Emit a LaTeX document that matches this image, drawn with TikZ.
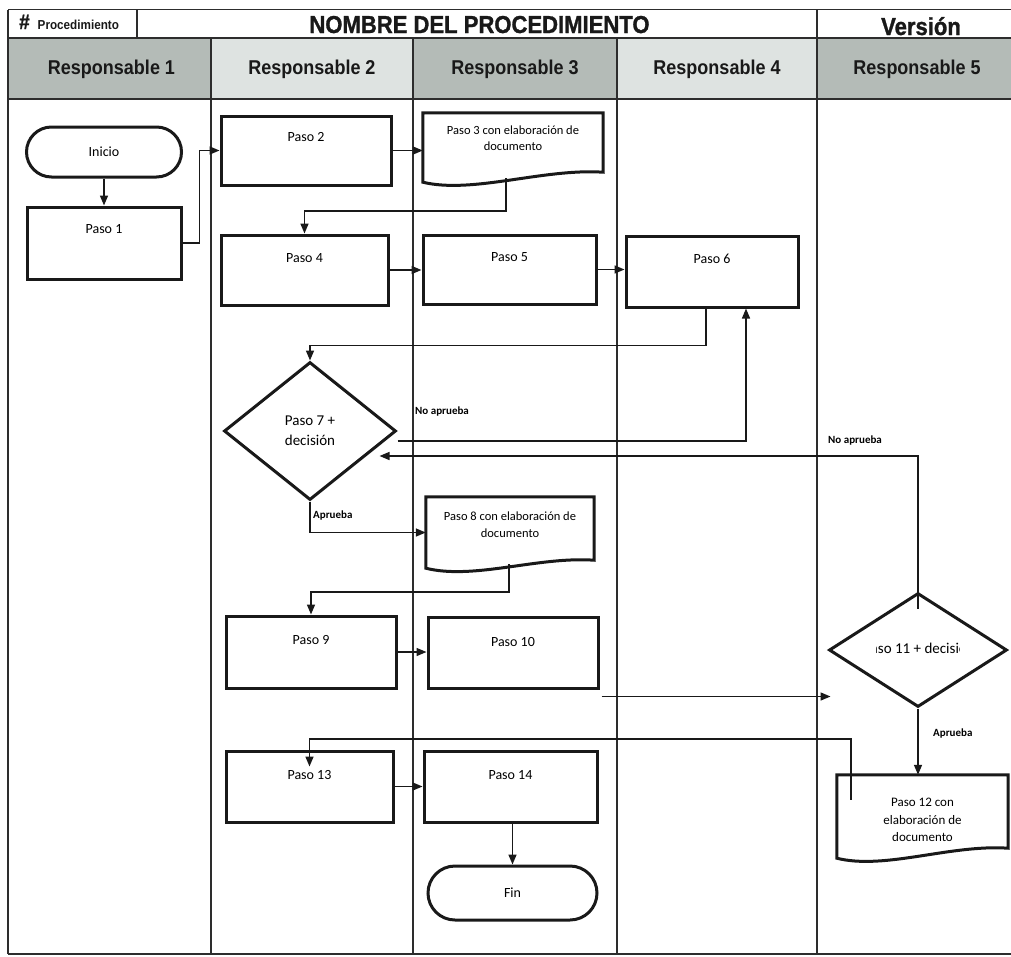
\documentclass[tikz,border=0pt]{standalone}
\usepackage{fontspec}
\setmainfont{Carlito}
\newfontfamily\hdr[FakeStretch=0.9]{Liberation Sans}
\newfontfamily\hdrh[FakeStretch=0.9, BoldFeatures={FakeBold=1.2}]{Liberation Sans}
\usetikzlibrary{arrows.meta,shapes.geometric,calc}
\definecolor{hdark}{RGB}{180,187,183}
\definecolor{hlight}{RGB}{222,227,225}
\definecolor{lanec}{RGB}{45,45,45}
\definecolor{ink}{RGB}{25,25,25}
\begin{document}
\begin{tikzpicture}[x=1pt,y=-1pt,
  lane/.style={draw=lanec, line width=1.3pt},
  box/.style={draw=ink, line width=3pt, rectangle, inner sep=0pt},
  docnode/.style={rectangle, inner sep=0pt},
  boxline/.style={draw=ink, line width=3pt},
  dia/.style={draw=ink, line width=3pt, diamond, inner sep=0pt, align=center,
    font=\fontsize{15}{21}\selectfont},
  txt/.style={inner sep=0pt, font=\fontsize{14}{16}\selectfont},
  doctxt/.style={inner sep=0pt, align=center, font=\fontsize{12.5}{16}\selectfont},
  lab/.style={inner sep=0pt, font=\bfseries\fontsize{11}{13}\selectfont},
  hdrtxt/.style={inner sep=0pt, anchor=base, text=ink, font=\hdr\bfseries\fontsize{20}{22}\selectfont},
  ttl/.style={inner sep=0pt, anchor=base, text=ink, font=\hdrh\bfseries\fontsize{24.5}{26}\selectfont},
  conn/.style={draw=ink, line width=1.5pt, -{Triangle[length=10pt,width=8pt]}}
]
\useasboundingbox (0,0) rectangle (1011,956);

% header fills
\fill[hdark]  (8,38) rectangle (211,99);
\fill[hlight] (211,38) rectangle (413,99);
\fill[hdark]  (413,38) rectangle (617,99);
\fill[hlight] (617,38) rectangle (817,99);
\fill[hdark]  (817,38) rectangle (1011,99);

% frame and lanes
\draw[lane] (8,9.5) -- (1011,9.5);
\draw[lane] (8,38) -- (1011,38);
\draw[lane] (8,99) -- (1011,99);
\draw[lane] (8,954) -- (1011,954);
\draw[lane] (8,9.5) -- (8,954);
\draw[lane] (137,9.5) -- (137,38);
\draw[lane] (817,9.5) -- (817,954);
\draw[lane] (211,38) -- (211,954);
\draw[lane] (413,38) -- (413,954);
\draw[lane] (617,38) -- (617,954);

% title row
\node[inner sep=0pt, anchor=base west, text=ink] (num) at (19,29)
  {{\hdrh\bfseries\fontsize{21}{21}\selectfont\#}\hspace{8pt}{\hdr\bfseries\fontsize{13}{13}\selectfont Procedimiento}};
\node[ttl] (title) at (479.5,33) {NOMBRE DEL PROCEDIMIENTO};
\node[ttl] (version) at (921,35) {Versión};

% header
\node[hdrtxt] (h1) at (111.5,74) {Responsable 1};
\node[hdrtxt] (h2) at (312,74) {Responsable 2};
\node[hdrtxt] (h3) at (515,74) {Responsable 3};
\node[hdrtxt] (h4) at (717,74) {Responsable 4};
\node[hdrtxt] (h5) at (917,74) {Responsable 5};

% nodes
\node[box, rounded corners=25pt, minimum width=155pt, minimum height=50pt, txt] (inicio) at (104,152) {Inicio};
\node[box, minimum width=154pt, minimum height=72pt, label={[txt,anchor=center,yshift=-24pt]north:Paso 1}] (p1) at (104,243) {};
\node[box, minimum width=170pt, minimum height=69pt, label={[txt,anchor=center,yshift=-23pt]north:Paso 2}] (p2) at (306,150.5) {};
\node[docnode, minimum width=180pt, minimum height=69pt, label={[doctxt,anchor=center,yshift=-25.5pt]north:{Paso 3 con elaboración de\\documento}}] (p3) at (513,147.5) {};
\draw[boxline] (p3.north west) -- (p3.north east) -- ([yshift=10pt]p3.south east)
  .. controls ([xshift=-60pt,yshift=14pt]p3.south east) and ([xshift=50pt,yshift=-12pt]p3.south west) .. (p3.south west) -- cycle;
\node[box, minimum width=167pt, minimum height=70pt, label={[txt,anchor=center,yshift=-25pt]north:Paso 4}] (p4) at (304.5,270) {};
\node[box, minimum width=173pt, minimum height=69pt, label={[txt,anchor=center,yshift=-24pt]north:Paso 5}] (p5) at (509.5,269.5) {};
\node[box, minimum width=172pt, minimum height=71pt, label={[txt,anchor=center,yshift=-24pt]north:Paso 6}] (p6) at (712,271.5) {};
\node[dia, minimum width=172pt, minimum height=138pt] (p7) at (310,431) {Paso 7 +\\[-1pt]decisión};
\node[docnode, minimum width=168pt, minimum height=71pt, label={[doctxt,anchor=center,yshift=-27.5pt,font=\fontsize{12.5}{17}\selectfont]north:{Paso 8 con elaboración de\\documento}}] (p8) at (510,532.5) {};
\draw[boxline] (p8.north west) -- (p8.north east) -- ([yshift=8pt]p8.south east)
  .. controls ([xshift=-56pt,yshift=12pt]p8.south east) and ([xshift=48pt,yshift=-12pt]p8.south west) .. (p8.south west) -- cycle;
\node[box, minimum width=170pt, minimum height=72pt, label={[txt,anchor=center,yshift=-25pt]north:Paso 9}] (p9) at (311,652) {};
\node[box, minimum width=170pt, minimum height=71pt, label={[txt,anchor=center,yshift=-26pt]north:Paso 10}] (p10) at (513,652.5) {};
\node[dia, minimum width=178pt, minimum height=114pt] (p11) at (918,650) {};
\begin{scope}
  \clip (876,630) rectangle (959.5,670);
  \node[txt, font=\fontsize{15}{17}\selectfont] (p11t) at (919,648) {Paso 11 + decisión};
\end{scope}
\node[docnode, minimum width=171pt, minimum height=83pt, label={[doctxt,anchor=center,yshift=-45.5pt,font=\fontsize{13}{17.5}\selectfont]north:{Paso 12 con\\elaboración de\\documento}}] (p12) at (922.5,816.5) {};
\draw[boxline] (p12.north west) -- (p12.north east) -- ([yshift=10pt]p12.south east)
  .. controls ([xshift=-58pt,yshift=14pt]p12.south east) and ([xshift=48pt,yshift=-12pt]p12.south west) .. (p12.south west) -- cycle;
\node[box, minimum width=167pt, minimum height=71pt, label={[txt,anchor=center,yshift=-25pt]north:Paso 13}] (p13) at (309.5,786.5) {};
\node[box, minimum width=173pt, minimum height=71pt, label={[txt,anchor=center,yshift=-26pt]north:Paso 14}] (p14) at (510.5,786.5) {};
\node[box, rounded corners=27pt, minimum width=169pt, minimum height=54pt, txt] (fin) at (512.5,893) {Fin};

% connector labels
\node[lab, anchor=west] (na1) at (415,411) {No aprueba};
\node[lab, anchor=west] (na2) at (828,440) {No aprueba};
\node[lab, anchor=west] (ap1) at (313,515) {Aprueba};
\node[lab, anchor=west] (ap2) at (933,733) {Aprueba};

% connectors
\draw[conn] (inicio.south) -- (inicio.south |- p1.north);
\draw[conn] (p1.east) -- ++(17,0) |- (p2.west);
\draw[conn] (p2.east) -- (p3.west |- p2.east);
\draw[conn] ([xshift=-7pt,yshift=4pt]p3.south) -- ++(0,33) -| (p4.north);
\draw[conn] (p4.east) -- (p5.west |- p4.east);
\draw[conn] (p5.east) -- (p6.west |- p5.east);
\draw[conn] ([xshift=-6pt]p6.south) -- ++(0,37) -| (p7.north);
\draw[conn] ([yshift=-10pt]p7.east) -| ([xshift=34pt]p6.south);
\draw[conn] ([yshift=-17pt]p11.north) |- ([xshift=-18pt,yshift=-25pt]p7.east);
\draw[conn] (p7.south) |- (p8.west);
\draw[conn] ([xshift=-1pt,yshift=4pt]p8.south) -- ++(0,28) -| (p9.north);
\draw[conn] (p9.east) -- (p10.west |- p9.east);
\draw[conn] ([xshift=2pt,yshift=-7pt]p10.south east) coordinate (c10) -- ([xshift=3pt]p11.west |- c10);
\draw[conn] (p11.south) -- (p11.south |- p12.north);
\draw[conn] ([xshift=14pt,yshift=-25pt]p12.north west) -- ++(0,-61) -| ([yshift=-17pt]p13.north);
\draw[conn] (p13.east) -- (p14.west |- p13.east);
\draw[conn] (fin.north |- p14.south) -- (fin.north);
\end{tikzpicture}
\end{document}
